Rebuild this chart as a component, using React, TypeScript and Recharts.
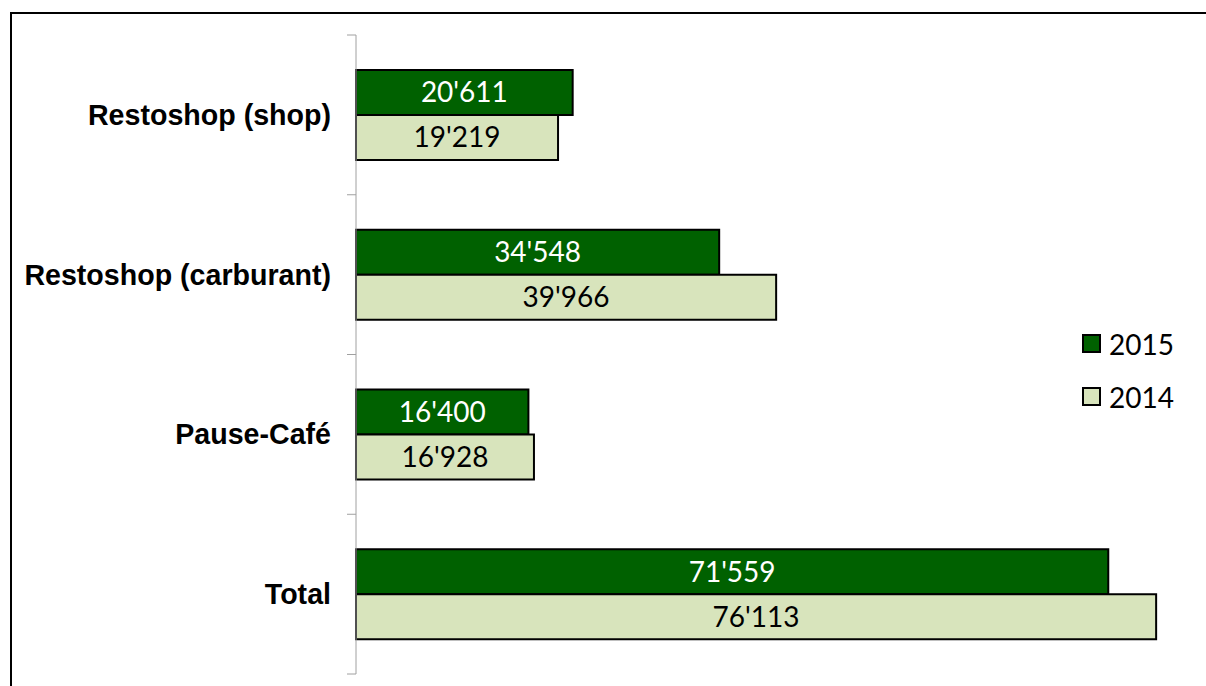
import React from 'react';
import { BarChart, Bar, XAxis, YAxis, LabelList, Legend } from 'recharts';

const categories = ['Restoshop (shop)', 'Restoshop (carburant)', 'Pause-Café', 'Total'];
const values2015 = [20611, 34548, 16400, 71559];
const values2014 = [19219, 39966, 16928, 76113];
const seriesNames = ['2015', '2014'];

const data = categories.map((name, i) => ({
  name,
  y2015: values2015[i],
  y2014: values2014[i],
}));

const AXIS_GRAY = '#a0a0a0';
const TICK_MARGIN = 25;
const TICK_LEN = 9;

const formatThousands = (v: any) => {
  const n = Number(v);
  const head = Math.floor(n / 1000);
  const tail = String(n % 1000).padStart(3, '0');
  return head > 0 ? `${head}'${tail}` : String(n);
};

// category label plus tick marks on the band edges (Excel style)
const CategoryTick = (props: any) => {
  const { x, y, payload, index, visibleTicksCount } = props;
  const half = payload.offset || 0;
  const ax = x + TICK_MARGIN;
  const isLast = index === visibleTicksCount - 1;
  return (
    <g>
      <line x1={ax - TICK_LEN} x2={ax} y1={y - half} y2={y - half} stroke={AXIS_GRAY} />
      {isLast && (
        <line x1={ax - TICK_LEN} x2={ax} y1={y + half} y2={y + half} stroke={AXIS_GRAY} />
      )}
      <text
        x={x}
        y={y}
        textAnchor="end"
        dominantBaseline="central"
        fontFamily='"Liberation Sans", Arial, sans-serif'
        fontSize={28.6}
        fontWeight="bold"
        fill="#000"
      >
        {payload.value}
      </text>
    </g>
  );
};

const LegendContent = ({ payload }: any) => {
  const items = [...(payload || [])].sort(
    (a: any, b: any) => seriesNames.indexOf(a.value) - seriesNames.indexOf(b.value)
  );
  return (
    <div style={{ fontFamily: 'Lato, "Open Sans", sans-serif', fontSize: 28, color: '#000' }}>
      {items.map((p: any) => (
        <div key={p.value} style={{ display: 'flex', alignItems: 'center', height: 53 }}>
          <span
            style={{
              display: 'inline-block',
              width: 15,
              height: 15,
              background: p.color,
              border: '2px solid #000',
              marginRight: 8,
            }}
          />
          <span>{p.value}</span>
        </div>
      ))}
    </div>
  );
};

export default function App() {
  return (
    <div
      style={{
        position: 'absolute',
        left: 0,
        top: 0,
        width: 1206,
        height: 686,
        overflow: 'hidden',
        background: '#fff',
      }}
    >
      <div
        style={{
          position: 'absolute',
          left: 10,
          top: 12,
          width: 1196,
          height: 674,
          borderTop: '2px solid #000',
          borderLeft: '2px solid #000',
        }}
      />
      <div style={{ position: 'absolute', left: 0, top: 0 }}>
        <BarChart
          width={1206}
          height={686}
          data={data}
          layout="vertical"
          margin={{ top: 35, right: 9, bottom: 12, left: 0 }}
          barSize={45}
          barGap={0}
        >
          <XAxis type="number" domain={[0, 80000]} hide />
          <YAxis
            type="category"
            dataKey="name"
            width={356}
            axisLine={{ stroke: AXIS_GRAY }}
            tickLine={false}
            tickSize={0}
            tickMargin={TICK_MARGIN}
            interval={0}
            tick={<CategoryTick />}
          />
          <Legend
            layout="horizontal"
            align="center"
            verticalAlign="middle"
            wrapperStyle={{ left: 1082, top: 317, width: 'auto' }}
            content={<LegendContent />}
          />
          <Bar
            dataKey="y2015"
            name="2015"
            fill="#006100"
            stroke="#000"
            strokeWidth={2}
            isAnimationActive={false}
          >
            <LabelList
              dataKey="y2015"
              position="center"
              formatter={formatThousands}
              fill="#fff"
              style={{ fontFamily: 'Lato, "Open Sans", sans-serif', fontSize: 28 }}
            />
          </Bar>
          <Bar
            dataKey="y2014"
            name="2014"
            fill="#D8E4BC"
            stroke="#000"
            strokeWidth={2}
            isAnimationActive={false}
          >
            <LabelList
              dataKey="y2014"
              position="center"
              formatter={formatThousands}
              fill="#000"
              style={{ fontFamily: 'Lato, "Open Sans", sans-serif', fontSize: 28 }}
            />
          </Bar>
        </BarChart>
      </div>
    </div>
  );
}
